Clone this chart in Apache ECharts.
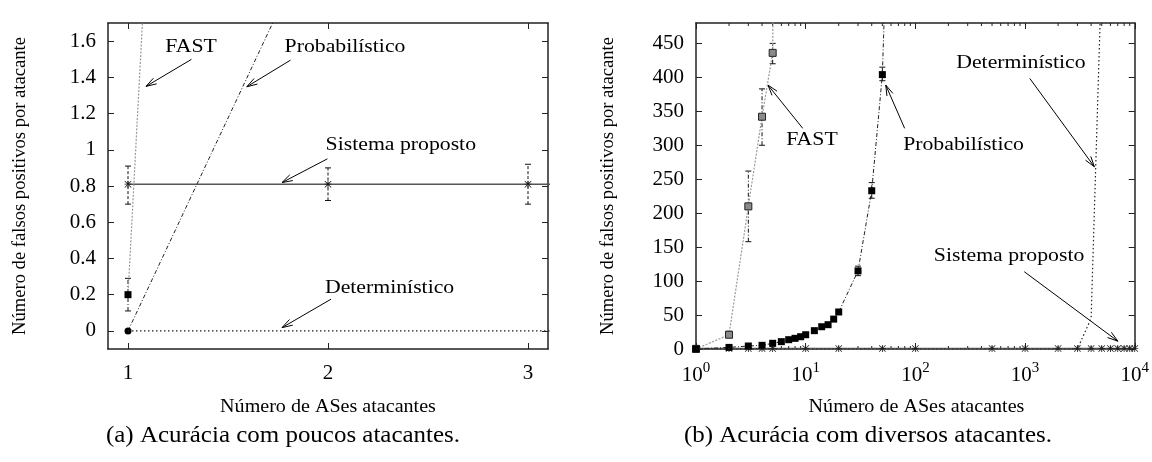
<!DOCTYPE html>
<html><head><meta charset="utf-8">
<script src="https://cdn.jsdelivr.net/npm/echarts@6/dist/echarts.min.js"></script>
<style>html,body{margin:0;padding:0;background:#fff}#c{width:1152px;height:462px}</style>
</head><body><div id="c"></div>
<script>
// ---------------- data ----------------
const fastX  = [1, 2, 3, 4, 5, 6];
const fastY  = [0.2, 21, 210, 342, 436, 2200];
const fastLo = [0.11, 18, 158, 300, 420, null];
const fastHi = [0.29, 26, 262, 383, 450, null];

const probX  = [1, 2, 3, 4, 5, 6, 7, 8, 9, 10, 12, 14, 16, 18, 20, 30, 40, 50, 60];
const probY  = [0, 2.35, 4.4, 5.4, 8.4, 10.8, 13.7, 15.7, 18.1, 21, 27, 32.8, 35.8, 44, 54.5, 115, 233, 404, 800];
const probLo = [null, null, null, null, null, null, null, null, null, null, null, null, null, null, null, 108, 222, 395, null];
const probHi = [null, null, null, null, null, null, null, null, null, null, null, null, null, null, null, 122, 245, 415, null];

const sysX  = [1, 2, 3, 4, 5, 10, 20, 50, 100, 500, 1000, 2000, 3000, 4000, 5000, 6000, 7000, 8000, 9000, 10000];
const sysY  = [0.81, 0.81, 0.81, 0.81, 0.81, 0.81, 0.81, 0.81, 0.81, 0.81, 0.81, 0.81, 0.81, 0.81, 0.81, 0.81, 0.81, 0.81, 0.81, 0.81];
const sysLo = [0.70, 0.72, 0.70, null, null, null, null, null, null, null, null, null, null, null, null, null, null, null, null, null];
const sysHi = [0.91, 0.90, 0.92, null, null, null, null, null, null, null, null, null, null, null, null, null, null, null, null, null];

const detX = [1, 2, 3, 4, 5, 10, 20, 50, 100, 500, 1000, 2000, 3000, 4000, 5000];
const detY = [0, 0, 0, 0, 0, 0, 0, 0, 0, 0, 0, 0, 0, 45, 560];

const xTicksFew  = [1, 2, 3];
const yTicksFew  = [0, 0.2, 0.4, 0.6, 0.8, 1, 1.2, 1.4, 1.6];
const yTicksMany = [0, 50, 100, 150, 200, 250, 300, 350, 400, 450];
const xMinorLog  = [2, 3, 4, 5, 6, 7, 8, 9, 20, 30, 40, 50, 60, 70, 80, 90,
                    200, 300, 400, 500, 600, 700, 800, 900, 2000, 3000, 4000, 5000, 6000, 7000, 8000, 9000];

const xTitle = 'Número de ASes atacantes';
const yTitle = 'Número de falsos positivos por atacante';
const captionA = '(a) Acurácia com poucos atacantes.';
const captionB = '(b) Acurácia com diversos atacantes.';

const annotLeft = [
  { text: 'FAST',             t: [1.315, 1.565], a: [[1.317, 1.499], [1.09, 1.35]] },
  { text: 'Probabilístico',   t: [2.085, 1.565], a: [[1.8125, 1.495], [1.594, 1.348]] },
  { text: 'Sistema proposto', t: [2.364, 1.027], a: [[1.997, 0.95], [1.77, 0.819]] },
  { text: 'Determinístico',   t: [2.308, 0.236], a: [[2.015, 0.175], [1.77, 0.018]] }
];
const annotRight = [
  { text: 'FAST',             t: [11.4, 307.6], a: [[9.4, 324.9], [4.53, 388.6]] },
  { text: 'Probabilístico',   t: [275, 300.3],  a: [[79.8, 324.9], [53.7, 388.6]] },
  { text: 'Determinístico',   t: [916, 421.5],  a: [[1104, 398.4], [4284, 268.3]] },
  { text: 'Sistema proposto', t: [715, 136.9],  a: [[984, 113.8], [7015, 11.5]] }
];

// ---------------- styling helpers ----------------
const FONT = '"Liberation Serif", "Times New Roman", serif';
const AX = '#222';
const SX = 1.17;   // horizontal stretch of the original figure's in-plot text
const pairs = (xs, ys) => xs.map((x, i) => [x, ys[i]]);
const errs = (xs, lo, hi) => xs.map((x, i) => [x, lo[i], hi[i]]).filter(d => d[1] != null);
const ASTER = 'path://M0,4.4H10V5.6H0Z M4.4,0H5.6V10H4.4Z M0.8,0L10,9.2L9.2,10L0,0.8Z M9.2,0L10,0.8L0.8,10L0,9.2Z';

function lineSeries(name, data, xi, yi, opts) {
  return Object.assign({
    type: 'line', name, data, xAxisIndex: xi, yAxisIndex: yi,
    clip: true, animation: false, silent: true
  }, opts);
}
function errSeries(data, xi, yi, dash) {
  return {
    type: 'custom', data, xAxisIndex: xi, yAxisIndex: yi, clip: true, silent: true, z: 3,
    encode: { x: 0, y: [1, 2] }, animation: false,
    renderItem(params, api) {
      const x = api.value(0), lo = api.value(1), hi = api.value(2);
      const p1 = api.coord([x, lo]), p2 = api.coord([x, hi]);
      const w = 3;
      return { type: 'group', children: [
        { type: 'line', shape: { x1: p1[0], y1: p1[1], x2: p2[0], y2: p2[1] }, style: { stroke: '#111', lineWidth: 1, lineDash: dash } },
        { type: 'line', shape: { x1: p1[0] - w, y1: p1[1], x2: p1[0] + w, y2: p1[1] }, style: { stroke: '#111', lineWidth: 1 } },
        { type: 'line', shape: { x1: p2[0] - w, y1: p2[1], x2: p2[0] + w, y2: p2[1] }, style: { stroke: '#111', lineWidth: 1 } }
      ]};
    }
  };
}
// marks differ slightly between the two panels (as in the original)
function seriesFor(xi, yi, few) {
  return [
    lineSeries('Sistema proposto', pairs(sysX, sysY), xi, yi, {
      symbol: ASTER, symbolSize: 7, itemStyle: { color: '#222' },
      lineStyle: { color: '#555', width: 1.6, type: 'solid' }, z: 2 }),
    lineSeries('FAST', pairs(fastX, fastY), xi, yi, {
      symbol: 'rect', symbolSize: 7,
      itemStyle: few ? { color: '#000' } : { color: '#8a8a8a', borderColor: '#222', borderWidth: 1 },
      lineStyle: { color: '#999', width: 1.2, type: [2, 1.5] }, z: 4 }),
    lineSeries('Probabilístico', pairs(probX, probY), xi, yi, {
      symbol: few ? 'circle' : 'rect', symbolSize: 7, itemStyle: { color: '#000' },
      lineStyle: { color: '#222', width: 1, type: [4, 2, 1, 2] }, z: 5 }),
    lineSeries('Determinístico', pairs(detX, detY), xi, yi, {
      showSymbol: false, symbol: 'none',
      lineStyle: { color: '#222', width: 1.2, type: [1.5, 2.5] }, z: 6 }),
    errSeries(errs(sysX, sysLo, sysHi), xi, yi, [3, 2]),
    errSeries(errs(fastX, fastLo, fastHi), xi, yi, [4, 2, 1, 2]),
    errSeries(errs(probX, probLo, probHi), xi, yi, [4, 2, 1, 2])
  ];
}
const axisLine = { show: true, onZero: false, lineStyle: { color: AX, width: 1.5 } };
const labelStyle = { fontFamily: FONT, fontSize: 21, color: '#000' };
const nameStyle = { fontFamily: FONT, fontSize: 18.6, color: '#000' };

const option = {
  animation: false,
  backgroundColor: '#fff',
  grid: [
    { left: 108, top: 23, width: 440, height: 326 },
    { left: 696, top: 23, width: 441, height: 326 }
  ],
  xAxis: [
    { type: 'value', gridIndex: 0, position: 'bottom', min: 0.9, max: 3.1,
      axisLine, splitLine: { show: false },
      axisTick: { inside: true, length: 6, customValues: xTicksFew, lineStyle: { color: AX } },
      axisLabel: Object.assign({ customValues: xTicksFew, margin: 14 }, labelStyle) },
    { type: 'value', gridIndex: 0, position: 'top', min: 0.9, max: 3.1,
      axisLine, splitLine: { show: false },
      axisTick: { inside: true, length: 6, customValues: xTicksFew, lineStyle: { color: AX } },
      axisLabel: { show: false } },
    { type: 'log', logBase: 10, gridIndex: 1, position: 'bottom', min: 1, max: 10000, splitNumber: 4,
      axisLine, splitLine: { show: false },
      axisTick: { inside: true, length: 6, lineStyle: { color: AX } },
      axisLabel: {
        margin: 12,
        formatter: v => '{b|10}{s|' + Math.round(Math.log10(v)) + '}',
        rich: {
          b: { fontFamily: FONT, fontSize: 21, color: '#000', verticalAlign: 'bottom', lineHeight: 25 },
          s: { fontFamily: FONT, fontSize: 15, color: '#000', verticalAlign: 'top', lineHeight: 15 }
        }
      } },
    { type: 'log', logBase: 10, gridIndex: 1, position: 'top', min: 1, max: 10000, splitNumber: 4,
      axisLine, splitLine: { show: false },
      axisTick: { inside: true, length: 6, lineStyle: { color: AX } },
      axisLabel: { show: false } }
  ],
  yAxis: [
    { type: 'value', gridIndex: 0, position: 'left', min: -0.1, max: 1.7,
      axisLine, splitLine: { show: false },
      axisTick: { inside: true, length: 6, customValues: yTicksFew, lineStyle: { color: AX } },
      axisLabel: Object.assign({ customValues: yTicksFew, margin: 12 }, labelStyle),
      name: yTitle, nameLocation: 'middle', nameGap: 78, nameTextStyle: nameStyle },
    { type: 'value', gridIndex: 0, position: 'right', min: -0.1, max: 1.7,
      axisLine, splitLine: { show: false },
      axisTick: { inside: true, length: 6, customValues: yTicksFew, lineStyle: { color: AX } },
      axisLabel: { show: false } },
    { type: 'value', gridIndex: 1, position: 'left', min: 0, max: 480,
      axisLine, splitLine: { show: false },
      axisTick: { inside: true, length: 6, customValues: yTicksMany, lineStyle: { color: AX } },
      axisLabel: Object.assign({ customValues: yTicksMany, margin: 12 }, labelStyle),
      name: yTitle, nameLocation: 'middle', nameGap: 78, nameTextStyle: nameStyle },
    { type: 'value', gridIndex: 1, position: 'right', min: 0, max: 480,
      axisLine, splitLine: { show: false },
      axisTick: { inside: true, length: 6, customValues: yTicksMany, lineStyle: { color: AX } },
      axisLabel: { show: false } }
  ],
  series: [].concat(
    seriesFor(0, 0, true),
    seriesFor(2, 2, false),
    [{
      type: 'custom', xAxisIndex: 2, yAxisIndex: 2, silent: true, animation: false, z: 1,
      data: xMinorLog.map(v => [v, 0]), encode: { x: 0, y: 1 },
      renderItem(params, api) {
        const v = api.value(0);
        const b = api.coord([v, 0]), t = api.coord([v, 480]);
        return { type: 'group', children: [
          { type: 'line', shape: { x1: b[0], y1: b[1], x2: b[0], y2: b[1] - 3 }, style: { stroke: AX, lineWidth: 1 } },
          { type: 'line', shape: { x1: t[0], y1: t[1], x2: t[0], y2: t[1] + 3 }, style: { stroke: AX, lineWidth: 1 } }
        ]};
      }
    }]
  )
};

const chart = echarts.init(document.getElementById('c'), null, { renderer: 'canvas' });
chart.setOption(option);

// ---------------- texts and annotations ----------------
function txt(text, x, y, size, sx) {
  return { type: 'text', x, y, scaleX: sx, scaleY: 1, silent: true,
    style: { text, fill: '#000', font: size + 'px ' + FONT, align: 'center', verticalAlign: 'middle',
             textAlign: 'center', textVerticalAlign: 'middle' } };
}
function arrowGraphics(list, finder) {
  const out = [];
  list.forEach(an => {
    const tp = chart.convertToPixel(finder, an.t);
    const p0 = chart.convertToPixel(finder, an.a[0]);
    const p1 = chart.convertToPixel(finder, an.a[1]);
    out.push(txt(an.text, tp[0], tp[1], 18.6, SX));
    out.push({ type: 'line', silent: true, shape: { x1: p0[0], y1: p0[1], x2: p1[0], y2: p1[1] },
      style: { stroke: '#000', lineWidth: 1 } });
    const ang = Math.atan2(p0[1] - p1[1], p0[0] - p1[0]);
    const L = 11, da = 0.3;
    out.push({ type: 'polyline', silent: true, shape: { points: [
      [p1[0] + L * Math.cos(ang + da), p1[1] + L * Math.sin(ang + da)],
      [p1[0], p1[1]],
      [p1[0] + L * Math.cos(ang - da), p1[1] + L * Math.sin(ang - da)] ] },
      style: { stroke: '#000', lineWidth: 1, fill: null } });
  });
  return out;
}
const gL = option.grid[0], gR = option.grid[1];
const graphics = [].concat(
  arrowGraphics(annotLeft, { xAxisIndex: 0, yAxisIndex: 0 }),
  arrowGraphics(annotRight, { xAxisIndex: 2, yAxisIndex: 2 }),
  [
    txt(xTitle, gL.left + gL.width / 2, 407, 18.6, 1.08),
    txt(xTitle, gR.left + gR.width / 2, 407, 18.6, 1.08),
    txt(captionA, 283, 436, 24, 1.04),
    txt(captionB, 868, 436, 24, 1.04)
  ]
);
chart.setOption({ graphic: graphics });
</script>
</body></html>
